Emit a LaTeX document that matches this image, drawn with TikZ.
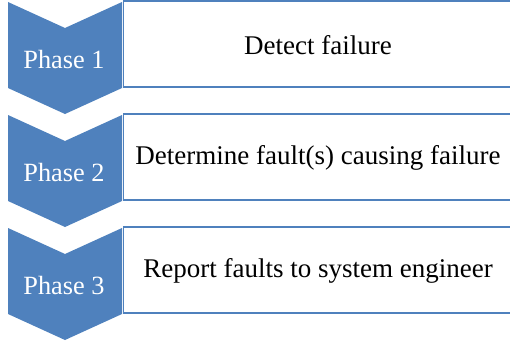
\documentclass[tikz,border=0pt]{standalone}
\usepackage{fontspec}
\setmainfont{Liberation Serif}
\definecolor{phaseblue}{HTML}{4F81BD}
\begin{document}
\begin{tikzpicture}[x=1pt,y=-1pt,
  chev/.style={fill=phaseblue,draw=none},
  descbox/.style={draw=phaseblue,line width=1.5pt,fill=white},
  phaselabel/.style={text=white,font=\fontsize{26.3}{29}\selectfont,anchor=center,inner sep=0pt},
  desclabel/.style={text=black,font=\fontsize{27}{30}\selectfont,anchor=center,inner sep=0pt}]
\useasboundingbox (0,0) rectangle (510,345);
\clip (0,0) rectangle (510,345);
\foreach \k/\lab/\desc in {0/Phase 1/Detect failure,1/Phase 2/Determine fault(s) causing failure,2/Phase 3/Report faults to system engineer}{
  \pgfmathsetmacro{\off}{113*\k}
  \begin{scope}[yshift={-\off pt}]
    \fill[chev] (8,2) -- (65,28) -- (122,2) -- (122,88) -- (65,114) -- (8,88) -- cycle;
    \draw[descbox] (123.5,1) rectangle (514,87);
    \node[phaselabel] (p\k) at (64,59.5) {\lab};
    \node[desclabel] (d\k) at (318,45) {\desc};
  \end{scope}
}
\end{tikzpicture}
\end{document}
